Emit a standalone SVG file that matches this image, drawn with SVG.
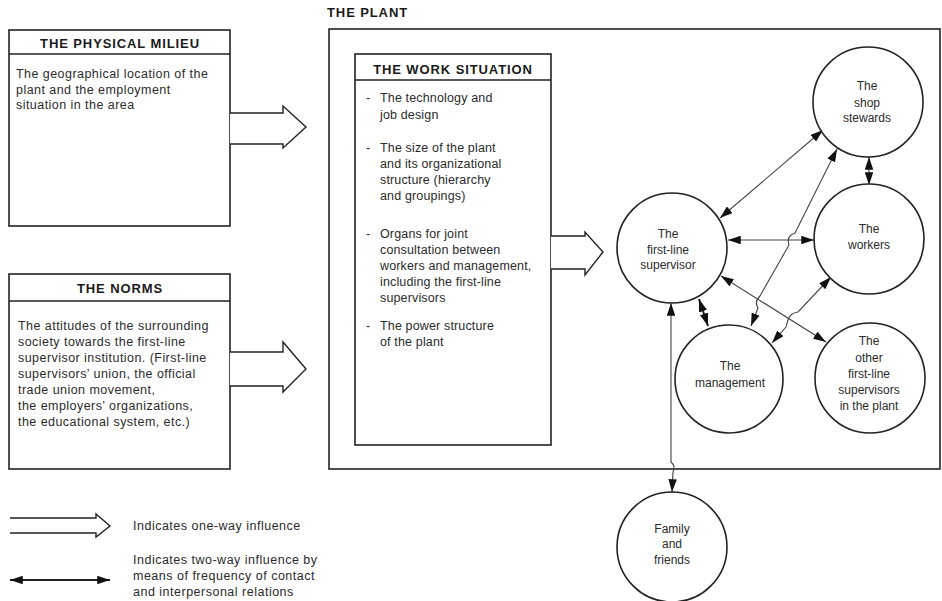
<svg xmlns="http://www.w3.org/2000/svg" width="942" height="601" viewBox="0 0 942 601">
<defs>
<marker id="ah" viewBox="0 0 12 8" refX="12" refY="4" markerWidth="13" markerHeight="8.5" markerUnits="userSpaceOnUse" orient="auto-start-reverse"><path d="M0,0 L12,4 L0,8 z" fill="#111"/></marker>
</defs>
<style>
text{font-family:"Liberation Sans",Arial,sans-serif;font-size:12px;fill:#2b2b2b}
.h{font-weight:bold;font-size:13px;letter-spacing:0.9px;fill:#1a1a1a}
.b{font-size:12.5px;letter-spacing:0.45px}
.w{font-size:12.5px;letter-spacing:0.15px}
.l{font-size:12.5px;letter-spacing:0.5px}
.m{text-anchor:middle}
.box{fill:none;stroke:#222;stroke-width:1.6}
.circ{fill:#fff;stroke:#222;stroke-width:1.6}
.hollow{fill:#fff;stroke:#222;stroke-width:1.4;stroke-linejoin:miter}
.con{fill:none;stroke:#444;stroke-width:1.1;marker-start:url(#ah);marker-end:url(#ah)}
</style>
<rect width="942" height="601" fill="#fff"/>

<g id="physical-milieu">
<rect class="box" x="9" y="30" width="221" height="196"/>
<line class="box" x1="9" y1="54" x2="230" y2="54"/>
<text class="h m" x="120" y="48">THE PHYSICAL MILIEU</text>
<text class="b" x="16" y="78">The geographical location of the</text>
<text class="b" x="16" y="94">plant and the employment</text>
<text class="b" x="16" y="109">situation in the area</text>
<path class="hollow" d="M230,113 H283 V106 L306,127 L283,148 V144 H230"/>
</g>

<g id="norms">
<rect class="box" x="9" y="274" width="221" height="195"/>
<line class="box" x1="9" y1="301" x2="230" y2="301"/>
<text class="h m" x="120" y="293">THE NORMS</text>
<text class="b" x="18" y="330">The attitudes of the surrounding</text>
<text class="b" x="18" y="346">society towards the first-line</text>
<text class="b" x="18" y="362">supervisor institution. (First-line</text>
<text class="b" x="18" y="378">supervisors’ union, the official</text>
<text class="b" x="18" y="394">trade union movement,</text>
<text class="b" x="18" y="410">the employers’ organizations,</text>
<text class="b" x="18" y="426">the educational system, etc.)</text>
<path class="hollow" d="M230,352 H283 V342 L306,369 L283,392 V386 H230"/>
</g>

<g id="plant">
<text class="h" x="327" y="17">THE PLANT</text>
<rect class="box" x="329" y="29" width="611" height="440"/>
</g>

<g id="work-situation">
<rect class="box" x="355" y="54" width="196" height="391"/>
<line class="box" x1="355" y1="80" x2="551" y2="80"/>
<text class="h m" x="453" y="74">THE WORK SITUATION</text>
<text class="w" x="366" y="102">-</text><text class="w" x="380" y="102">The technology and</text>
<text class="w" x="380" y="119">job design</text>
<text class="w" x="366" y="152">-</text><text class="w" x="380" y="152">The size of the plant</text>
<text class="w" x="380" y="168">and its organizational</text>
<text class="w" x="380" y="184">structure (hierarchy</text>
<text class="w" x="380" y="200">and groupings)</text>
<text class="w" x="366" y="238">-</text><text class="w" x="380" y="238">Organs for joint</text>
<text class="w" x="380" y="254">consultation between</text>
<text class="w" x="380" y="270">workers and management,</text>
<text class="w" x="380" y="286">including the first-line</text>
<text class="w" x="380" y="302">supervisors</text>
<text class="w" x="366" y="330">-</text><text class="w" x="380" y="330">The power structure</text>
<text class="w" x="380" y="346">of the plant</text>
<path class="hollow" d="M551,236 H585 V232 L603,252 L585,275 V269 H551"/>
</g>

<g id="connectors">
<line class="con" x1="720" y1="218" x2="823" y2="130"/>
<line class="con" x1="728" y1="240" x2="814" y2="240"/>
<line class="con" x1="869" y1="157" x2="869" y2="185"/>
<path class="con" d="M837,149 L795,233 Q786,236 789,245 L760,296 Q754,302 758,308 L751,326"/>
<line class="con" x1="699" y1="299" x2="708" y2="326" style="stroke-width:2;stroke:#222"/>
<line class="con" x1="721" y1="276" x2="826" y2="342"/>
<path class="con" d="M831,277 L798,312 Q790,313 788,320 L786,327 L772,343"/>
<path class="con" d="M671,303 L671,462 Q676,466 673,472 L672,492"/>
</g>

<g id="shop-stewards">
<circle class="circ" cx="868" cy="102" r="55"/>
<text class="m" x="867" y="90">The</text>
<text class="m" x="867" y="107">shop</text>
<text class="m" x="867" y="122">stewards</text>
</g>

<g id="first-line-supervisor">
<circle class="circ" cx="672" cy="248" r="55"/>
<text class="m" x="668" y="238">The</text>
<text class="m" x="668" y="254">first-line</text>
<text class="m" x="668" y="269">supervisor</text>
</g>

<g id="workers">
<circle class="circ" cx="869" cy="239" r="55"/>
<text class="m" x="869" y="233">The</text>
<text class="m" x="869" y="249">workers</text>
</g>

<g id="management">
<circle class="circ" cx="729" cy="379" r="54"/>
<text class="m" x="730" y="370">The</text>
<text class="m" x="730" y="387">management</text>
</g>

<g id="other-supervisors">
<circle class="circ" cx="870" cy="378" r="55"/>
<text class="m" x="869" y="345">The</text>
<text class="m" x="869" y="362">other</text>
<text class="m" x="869" y="378">first-line</text>
<text class="m" x="869" y="394">supervisors</text>
<text class="m" x="869" y="410">in the plant</text>
</g>

<g id="family-friends">
<circle class="circ" cx="672" cy="547" r="55"/>
<text class="m" x="672" y="533">Family</text>
<text class="m" x="672" y="548">and</text>
<text class="m" x="672" y="564">friends</text>
</g>

<g id="legend">
<path class="hollow" d="M10,518 H96 V514 L110,526 L96,537 V533 H10"/>
<text class="l" x="133" y="530">Indicates one-way influence</text>
<line x1="10" y1="580" x2="110" y2="580" style="stroke:#222;stroke-width:2;marker-start:url(#ah);marker-end:url(#ah)"/>
<text class="l" x="133" y="564">Indicates two-way influence by</text>
<text class="l" x="133" y="580">means of frequency of contact</text>
<text class="l" x="133" y="596">and interpersonal relations</text>
</g>
</svg>
